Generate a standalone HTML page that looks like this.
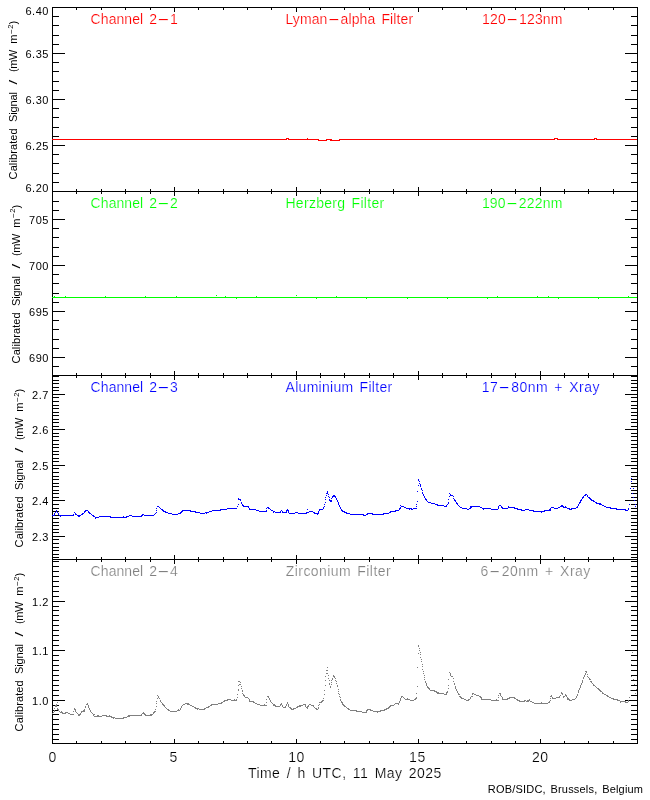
<!DOCTYPE html>
<html><head><meta charset="utf-8"><title>LYRA calibrated signal</title>
<style>html,body{margin:0;padding:0;background:#fff}body{width:650px;height:800px;overflow:hidden}svg{display:block;will-change:transform}text{font-family:"Liberation Sans",sans-serif;stroke:#fff;stroke-width:0.2}.s text,text.s{stroke-width:0}</style></head><body>
<svg width="650" height="800" viewBox="0 0 650 800">
<rect width="650" height="800" fill="#fff"/>
<g fill="#000" shape-rendering="crispEdges">
<rect x="52" y="7" width="1" height="737"/><rect x="637" y="7" width="1" height="737"/><rect x="52" y="7" width="586" height="1"/><rect x="52" y="191" width="586" height="1"/><rect x="52" y="375" width="586" height="1"/><rect x="52" y="559" width="586" height="1"/><rect x="52" y="743" width="586" height="1"/><rect x="76" y="7" width="1" height="3"/><rect x="76" y="189" width="1" height="5"/><rect x="76" y="373" width="1" height="5"/><rect x="76" y="557" width="1" height="5"/><rect x="76" y="741" width="1" height="3"/><rect x="101" y="7" width="1" height="3"/><rect x="101" y="189" width="1" height="5"/><rect x="101" y="373" width="1" height="5"/><rect x="101" y="557" width="1" height="5"/><rect x="101" y="741" width="1" height="3"/><rect x="125" y="7" width="1" height="3"/><rect x="125" y="189" width="1" height="5"/><rect x="125" y="373" width="1" height="5"/><rect x="125" y="557" width="1" height="5"/><rect x="125" y="741" width="1" height="3"/><rect x="150" y="7" width="1" height="3"/><rect x="150" y="189" width="1" height="5"/><rect x="150" y="373" width="1" height="5"/><rect x="150" y="557" width="1" height="5"/><rect x="150" y="741" width="1" height="3"/><rect x="174" y="7" width="1" height="5"/><rect x="174" y="187" width="1" height="9"/><rect x="174" y="371" width="1" height="9"/><rect x="174" y="555" width="1" height="9"/><rect x="174" y="739" width="1" height="5"/><rect x="198" y="7" width="1" height="3"/><rect x="198" y="189" width="1" height="5"/><rect x="198" y="373" width="1" height="5"/><rect x="198" y="557" width="1" height="5"/><rect x="198" y="741" width="1" height="3"/><rect x="223" y="7" width="1" height="3"/><rect x="223" y="189" width="1" height="5"/><rect x="223" y="373" width="1" height="5"/><rect x="223" y="557" width="1" height="5"/><rect x="223" y="741" width="1" height="3"/><rect x="247" y="7" width="1" height="3"/><rect x="247" y="189" width="1" height="5"/><rect x="247" y="373" width="1" height="5"/><rect x="247" y="557" width="1" height="5"/><rect x="247" y="741" width="1" height="3"/><rect x="271" y="7" width="1" height="3"/><rect x="271" y="189" width="1" height="5"/><rect x="271" y="373" width="1" height="5"/><rect x="271" y="557" width="1" height="5"/><rect x="271" y="741" width="1" height="3"/><rect x="296" y="7" width="1" height="5"/><rect x="296" y="187" width="1" height="9"/><rect x="296" y="371" width="1" height="9"/><rect x="296" y="555" width="1" height="9"/><rect x="296" y="739" width="1" height="5"/><rect x="320" y="7" width="1" height="3"/><rect x="320" y="189" width="1" height="5"/><rect x="320" y="373" width="1" height="5"/><rect x="320" y="557" width="1" height="5"/><rect x="320" y="741" width="1" height="3"/><rect x="344" y="7" width="1" height="3"/><rect x="344" y="189" width="1" height="5"/><rect x="344" y="373" width="1" height="5"/><rect x="344" y="557" width="1" height="5"/><rect x="344" y="741" width="1" height="3"/><rect x="369" y="7" width="1" height="3"/><rect x="369" y="189" width="1" height="5"/><rect x="369" y="373" width="1" height="5"/><rect x="369" y="557" width="1" height="5"/><rect x="369" y="741" width="1" height="3"/><rect x="393" y="7" width="1" height="3"/><rect x="393" y="189" width="1" height="5"/><rect x="393" y="373" width="1" height="5"/><rect x="393" y="557" width="1" height="5"/><rect x="393" y="741" width="1" height="3"/><rect x="418" y="7" width="1" height="5"/><rect x="418" y="187" width="1" height="9"/><rect x="418" y="371" width="1" height="9"/><rect x="418" y="555" width="1" height="9"/><rect x="418" y="739" width="1" height="5"/><rect x="442" y="7" width="1" height="3"/><rect x="442" y="189" width="1" height="5"/><rect x="442" y="373" width="1" height="5"/><rect x="442" y="557" width="1" height="5"/><rect x="442" y="741" width="1" height="3"/><rect x="466" y="7" width="1" height="3"/><rect x="466" y="189" width="1" height="5"/><rect x="466" y="373" width="1" height="5"/><rect x="466" y="557" width="1" height="5"/><rect x="466" y="741" width="1" height="3"/><rect x="491" y="7" width="1" height="3"/><rect x="491" y="189" width="1" height="5"/><rect x="491" y="373" width="1" height="5"/><rect x="491" y="557" width="1" height="5"/><rect x="491" y="741" width="1" height="3"/><rect x="515" y="7" width="1" height="3"/><rect x="515" y="189" width="1" height="5"/><rect x="515" y="373" width="1" height="5"/><rect x="515" y="557" width="1" height="5"/><rect x="515" y="741" width="1" height="3"/><rect x="540" y="7" width="1" height="5"/><rect x="540" y="187" width="1" height="9"/><rect x="540" y="371" width="1" height="9"/><rect x="540" y="555" width="1" height="9"/><rect x="540" y="739" width="1" height="5"/><rect x="564" y="7" width="1" height="3"/><rect x="564" y="189" width="1" height="5"/><rect x="564" y="373" width="1" height="5"/><rect x="564" y="557" width="1" height="5"/><rect x="564" y="741" width="1" height="3"/><rect x="588" y="7" width="1" height="3"/><rect x="588" y="189" width="1" height="5"/><rect x="588" y="373" width="1" height="5"/><rect x="588" y="557" width="1" height="5"/><rect x="588" y="741" width="1" height="3"/><rect x="613" y="7" width="1" height="3"/><rect x="613" y="189" width="1" height="5"/><rect x="613" y="373" width="1" height="5"/><rect x="613" y="557" width="1" height="5"/><rect x="613" y="741" width="1" height="3"/><rect x="52" y="191" width="13" height="1"/><rect x="625" y="191" width="13" height="1"/><rect x="52" y="182" width="7" height="1"/><rect x="631" y="182" width="7" height="1"/><rect x="52" y="173" width="7" height="1"/><rect x="631" y="173" width="7" height="1"/><rect x="52" y="163" width="7" height="1"/><rect x="631" y="163" width="7" height="1"/><rect x="52" y="154" width="7" height="1"/><rect x="631" y="154" width="7" height="1"/><rect x="52" y="145" width="13" height="1"/><rect x="625" y="145" width="13" height="1"/><rect x="52" y="136" width="7" height="1"/><rect x="631" y="136" width="7" height="1"/><rect x="52" y="127" width="7" height="1"/><rect x="631" y="127" width="7" height="1"/><rect x="52" y="117" width="7" height="1"/><rect x="631" y="117" width="7" height="1"/><rect x="52" y="108" width="7" height="1"/><rect x="631" y="108" width="7" height="1"/><rect x="52" y="99" width="13" height="1"/><rect x="625" y="99" width="13" height="1"/><rect x="52" y="90" width="7" height="1"/><rect x="631" y="90" width="7" height="1"/><rect x="52" y="81" width="7" height="1"/><rect x="631" y="81" width="7" height="1"/><rect x="52" y="71" width="7" height="1"/><rect x="631" y="71" width="7" height="1"/><rect x="52" y="62" width="7" height="1"/><rect x="631" y="62" width="7" height="1"/><rect x="52" y="53" width="13" height="1"/><rect x="625" y="53" width="13" height="1"/><rect x="52" y="44" width="7" height="1"/><rect x="631" y="44" width="7" height="1"/><rect x="52" y="35" width="7" height="1"/><rect x="631" y="35" width="7" height="1"/><rect x="52" y="25" width="7" height="1"/><rect x="631" y="25" width="7" height="1"/><rect x="52" y="16" width="7" height="1"/><rect x="631" y="16" width="7" height="1"/><rect x="52" y="7" width="13" height="1"/><rect x="625" y="7" width="13" height="1"/><rect x="52" y="366" width="7" height="1"/><rect x="631" y="366" width="7" height="1"/><rect x="52" y="357" width="13" height="1"/><rect x="625" y="357" width="13" height="1"/><rect x="52" y="348" width="7" height="1"/><rect x="631" y="348" width="7" height="1"/><rect x="52" y="339" width="7" height="1"/><rect x="631" y="339" width="7" height="1"/><rect x="52" y="329" width="7" height="1"/><rect x="631" y="329" width="7" height="1"/><rect x="52" y="320" width="7" height="1"/><rect x="631" y="320" width="7" height="1"/><rect x="52" y="311" width="13" height="1"/><rect x="625" y="311" width="13" height="1"/><rect x="52" y="302" width="7" height="1"/><rect x="631" y="302" width="7" height="1"/><rect x="52" y="293" width="7" height="1"/><rect x="631" y="293" width="7" height="1"/><rect x="52" y="283" width="7" height="1"/><rect x="631" y="283" width="7" height="1"/><rect x="52" y="274" width="7" height="1"/><rect x="631" y="274" width="7" height="1"/><rect x="52" y="265" width="13" height="1"/><rect x="625" y="265" width="13" height="1"/><rect x="52" y="256" width="7" height="1"/><rect x="631" y="256" width="7" height="1"/><rect x="52" y="247" width="7" height="1"/><rect x="631" y="247" width="7" height="1"/><rect x="52" y="237" width="7" height="1"/><rect x="631" y="237" width="7" height="1"/><rect x="52" y="228" width="7" height="1"/><rect x="631" y="228" width="7" height="1"/><rect x="52" y="219" width="13" height="1"/><rect x="625" y="219" width="13" height="1"/><rect x="52" y="210" width="7" height="1"/><rect x="631" y="210" width="7" height="1"/><rect x="52" y="201" width="7" height="1"/><rect x="631" y="201" width="7" height="1"/><rect x="52" y="191" width="7" height="1"/><rect x="631" y="191" width="7" height="1"/><rect x="52" y="557" width="7" height="1"/><rect x="631" y="557" width="7" height="1"/><rect x="52" y="554" width="7" height="1"/><rect x="631" y="554" width="7" height="1"/><rect x="52" y="550" width="7" height="1"/><rect x="631" y="550" width="7" height="1"/><rect x="52" y="547" width="7" height="1"/><rect x="631" y="547" width="7" height="1"/><rect x="52" y="543" width="7" height="1"/><rect x="631" y="543" width="7" height="1"/><rect x="52" y="539" width="7" height="1"/><rect x="631" y="539" width="7" height="1"/><rect x="52" y="536" width="13" height="1"/><rect x="625" y="536" width="13" height="1"/><rect x="52" y="532" width="7" height="1"/><rect x="631" y="532" width="7" height="1"/><rect x="52" y="529" width="7" height="1"/><rect x="631" y="529" width="7" height="1"/><rect x="52" y="525" width="7" height="1"/><rect x="631" y="525" width="7" height="1"/><rect x="52" y="522" width="7" height="1"/><rect x="631" y="522" width="7" height="1"/><rect x="52" y="518" width="7" height="1"/><rect x="631" y="518" width="7" height="1"/><rect x="52" y="515" width="7" height="1"/><rect x="631" y="515" width="7" height="1"/><rect x="52" y="511" width="7" height="1"/><rect x="631" y="511" width="7" height="1"/><rect x="52" y="508" width="7" height="1"/><rect x="631" y="508" width="7" height="1"/><rect x="52" y="504" width="7" height="1"/><rect x="631" y="504" width="7" height="1"/><rect x="52" y="500" width="13" height="1"/><rect x="625" y="500" width="13" height="1"/><rect x="52" y="497" width="7" height="1"/><rect x="631" y="497" width="7" height="1"/><rect x="52" y="493" width="7" height="1"/><rect x="631" y="493" width="7" height="1"/><rect x="52" y="490" width="7" height="1"/><rect x="631" y="490" width="7" height="1"/><rect x="52" y="486" width="7" height="1"/><rect x="631" y="486" width="7" height="1"/><rect x="52" y="483" width="7" height="1"/><rect x="631" y="483" width="7" height="1"/><rect x="52" y="479" width="7" height="1"/><rect x="631" y="479" width="7" height="1"/><rect x="52" y="476" width="7" height="1"/><rect x="631" y="476" width="7" height="1"/><rect x="52" y="472" width="7" height="1"/><rect x="631" y="472" width="7" height="1"/><rect x="52" y="468" width="7" height="1"/><rect x="631" y="468" width="7" height="1"/><rect x="52" y="465" width="13" height="1"/><rect x="625" y="465" width="13" height="1"/><rect x="52" y="461" width="7" height="1"/><rect x="631" y="461" width="7" height="1"/><rect x="52" y="458" width="7" height="1"/><rect x="631" y="458" width="7" height="1"/><rect x="52" y="454" width="7" height="1"/><rect x="631" y="454" width="7" height="1"/><rect x="52" y="451" width="7" height="1"/><rect x="631" y="451" width="7" height="1"/><rect x="52" y="447" width="7" height="1"/><rect x="631" y="447" width="7" height="1"/><rect x="52" y="444" width="7" height="1"/><rect x="631" y="444" width="7" height="1"/><rect x="52" y="440" width="7" height="1"/><rect x="631" y="440" width="7" height="1"/><rect x="52" y="436" width="7" height="1"/><rect x="631" y="436" width="7" height="1"/><rect x="52" y="433" width="7" height="1"/><rect x="631" y="433" width="7" height="1"/><rect x="52" y="429" width="13" height="1"/><rect x="625" y="429" width="13" height="1"/><rect x="52" y="426" width="7" height="1"/><rect x="631" y="426" width="7" height="1"/><rect x="52" y="422" width="7" height="1"/><rect x="631" y="422" width="7" height="1"/><rect x="52" y="419" width="7" height="1"/><rect x="631" y="419" width="7" height="1"/><rect x="52" y="415" width="7" height="1"/><rect x="631" y="415" width="7" height="1"/><rect x="52" y="412" width="7" height="1"/><rect x="631" y="412" width="7" height="1"/><rect x="52" y="408" width="7" height="1"/><rect x="631" y="408" width="7" height="1"/><rect x="52" y="405" width="7" height="1"/><rect x="631" y="405" width="7" height="1"/><rect x="52" y="401" width="7" height="1"/><rect x="631" y="401" width="7" height="1"/><rect x="52" y="397" width="7" height="1"/><rect x="631" y="397" width="7" height="1"/><rect x="52" y="394" width="13" height="1"/><rect x="625" y="394" width="13" height="1"/><rect x="52" y="390" width="7" height="1"/><rect x="631" y="390" width="7" height="1"/><rect x="52" y="387" width="7" height="1"/><rect x="631" y="387" width="7" height="1"/><rect x="52" y="383" width="7" height="1"/><rect x="631" y="383" width="7" height="1"/><rect x="52" y="380" width="7" height="1"/><rect x="631" y="380" width="7" height="1"/><rect x="52" y="376" width="7" height="1"/><rect x="631" y="376" width="7" height="1"/><rect x="52" y="739" width="7" height="1"/><rect x="631" y="739" width="7" height="1"/><rect x="52" y="734" width="7" height="1"/><rect x="631" y="734" width="7" height="1"/><rect x="52" y="729" width="7" height="1"/><rect x="631" y="729" width="7" height="1"/><rect x="52" y="724" width="7" height="1"/><rect x="631" y="724" width="7" height="1"/><rect x="52" y="719" width="7" height="1"/><rect x="631" y="719" width="7" height="1"/><rect x="52" y="714" width="7" height="1"/><rect x="631" y="714" width="7" height="1"/><rect x="52" y="710" width="7" height="1"/><rect x="631" y="710" width="7" height="1"/><rect x="52" y="705" width="7" height="1"/><rect x="631" y="705" width="7" height="1"/><rect x="52" y="700" width="13" height="1"/><rect x="625" y="700" width="13" height="1"/><rect x="52" y="695" width="7" height="1"/><rect x="631" y="695" width="7" height="1"/><rect x="52" y="690" width="7" height="1"/><rect x="631" y="690" width="7" height="1"/><rect x="52" y="685" width="7" height="1"/><rect x="631" y="685" width="7" height="1"/><rect x="52" y="680" width="7" height="1"/><rect x="631" y="680" width="7" height="1"/><rect x="52" y="675" width="7" height="1"/><rect x="631" y="675" width="7" height="1"/><rect x="52" y="670" width="7" height="1"/><rect x="631" y="670" width="7" height="1"/><rect x="52" y="665" width="7" height="1"/><rect x="631" y="665" width="7" height="1"/><rect x="52" y="660" width="7" height="1"/><rect x="631" y="660" width="7" height="1"/><rect x="52" y="655" width="7" height="1"/><rect x="631" y="655" width="7" height="1"/><rect x="52" y="650" width="13" height="1"/><rect x="625" y="650" width="13" height="1"/><rect x="52" y="645" width="7" height="1"/><rect x="631" y="645" width="7" height="1"/><rect x="52" y="640" width="7" height="1"/><rect x="631" y="640" width="7" height="1"/><rect x="52" y="635" width="7" height="1"/><rect x="631" y="635" width="7" height="1"/><rect x="52" y="630" width="7" height="1"/><rect x="631" y="630" width="7" height="1"/><rect x="52" y="625" width="7" height="1"/><rect x="631" y="625" width="7" height="1"/><rect x="52" y="620" width="7" height="1"/><rect x="631" y="620" width="7" height="1"/><rect x="52" y="615" width="7" height="1"/><rect x="631" y="615" width="7" height="1"/><rect x="52" y="610" width="7" height="1"/><rect x="631" y="610" width="7" height="1"/><rect x="52" y="606" width="7" height="1"/><rect x="631" y="606" width="7" height="1"/><rect x="52" y="601" width="13" height="1"/><rect x="625" y="601" width="13" height="1"/><rect x="52" y="596" width="7" height="1"/><rect x="631" y="596" width="7" height="1"/><rect x="52" y="591" width="7" height="1"/><rect x="631" y="591" width="7" height="1"/><rect x="52" y="586" width="7" height="1"/><rect x="631" y="586" width="7" height="1"/><rect x="52" y="581" width="7" height="1"/><rect x="631" y="581" width="7" height="1"/><rect x="52" y="576" width="7" height="1"/><rect x="631" y="576" width="7" height="1"/><rect x="52" y="571" width="7" height="1"/><rect x="631" y="571" width="7" height="1"/><rect x="52" y="566" width="7" height="1"/><rect x="631" y="566" width="7" height="1"/><rect x="52" y="561" width="7" height="1"/><rect x="631" y="561" width="7" height="1"/>
</g>
<polyline points="52.0,139.5 286.5,139.5 286.5,138.5 288.5,138.5 288.5,139.5 318.0,139.5 318.0,140.5 326.5,140.5 326.5,139.5 331.5,139.5 331.5,140.5 339.0,140.5 339.0,139.5 554.0,139.5 554.0,138.5 557.0,138.5 557.0,139.5 594.0,139.5 594.0,138.5 596.0,138.5 596.0,139.5 637.0,139.5" fill="none" stroke="#ff0000" stroke-width="1" shape-rendering="crispEdges"/>
<path d="M307 138.5h1M330 140.5h1" fill="none" stroke="#ff0000" stroke-width="1" shape-rendering="crispEdges"/>
<polyline points="52.0,297.5 637.0,297.5" fill="none" stroke="#00ff00" stroke-width="1" shape-rendering="crispEdges"/>
<path d="M216 295.5h1M296 295.5h1M54 296.5h1M65 296.5h1M105 296.5h1M145 296.5h1M176 296.5h1M225 296.5h1M256 296.5h1M336 296.5h1M497 296.5h1M537 296.5h1M548 296.5h1M628 296.5h1M236 298.5h1M316 298.5h1M366 298.5h1M407 298.5h1M447 298.5h1M487 298.5h1M558 298.5h1M598 298.5h1" fill="none" stroke="#00ff00" stroke-width="1" shape-rendering="crispEdges"/>
<path d="M631 478.5h1M418 479.5h1M418 480.5h1M419 481.5h1M631 481.5h1M419 483.5h1M420 484.5h1M418 485.5h1M420 485.5h1M420 486.5h1M421 488.5h1M630 488.5h1M633 488.5h1M421 489.5h1M422 490.5h1M327 491.5h1M417 491.5h1M327 492.5h1M422 492.5h1M326 493.5h2M422 493.5h1M449 493.5h1M632 493.5h1M328 494.5h1M423 494.5h1M450 494.5h1M585 494.5h2M326 495.5h1M333 495.5h2M423 495.5h1M450 495.5h3M584 495.5h2M587 495.5h1M328 496.5h1M332 496.5h4M424 496.5h1M449 496.5h1M453 496.5h1M583 496.5h1M587 496.5h1M325 497.5h1M329 497.5h1M332 497.5h1M335 497.5h1M424 497.5h1M582 497.5h2M588 497.5h2M633 497.5h1M238 498.5h1M331 498.5h1M336 498.5h1M425 498.5h1M453 498.5h1M582 498.5h1M589 498.5h2M238 499.5h3M325 499.5h1M329 499.5h1M336 499.5h1M425 499.5h2M448 499.5h1M454 499.5h1M581 499.5h1M590 499.5h2M240 500.5h1M329 500.5h3M337 500.5h1M426 500.5h1M454 500.5h2M580 500.5h2M591 500.5h3M634 500.5h1M330 501.5h2M337 501.5h1M417 501.5h1M427 501.5h1M455 501.5h1M580 501.5h1M593 501.5h2M241 502.5h1M325 502.5h1M338 502.5h1M428 502.5h3M448 502.5h1M456 502.5h1M579 502.5h2M595 502.5h2M241 503.5h1M338 503.5h1M431 503.5h4M448 503.5h1M456 503.5h2M579 503.5h1M596 503.5h5M238 504.5h1M242 504.5h1M324 504.5h1M338 504.5h1M416 504.5h1M435 504.5h3M447 504.5h1M457 504.5h1M578 504.5h1M599 504.5h3M629 504.5h1M635 504.5h1M242 505.5h2M339 505.5h1M400 505.5h1M437 505.5h7M446 505.5h1M458 505.5h1M499 505.5h2M561 505.5h2M578 505.5h1M602 505.5h2M157 506.5h2M237 506.5h1M243 506.5h6M324 506.5h1M339 506.5h1M401 506.5h3M416 506.5h1M444 506.5h3M459 506.5h1M470 506.5h10M498 506.5h1M501 506.5h1M508 506.5h1M560 506.5h4M565 506.5h1M577 506.5h1M604 506.5h2M635 506.5h1M159 507.5h1M248 507.5h1M267 507.5h2M323 507.5h1M340 507.5h1M400 507.5h1M404 507.5h2M460 507.5h2M470 507.5h2M480 507.5h2M498 507.5h1M501 507.5h2M508 507.5h7M551 507.5h3M558 507.5h2M563 507.5h4M576 507.5h2M606 507.5h5M156 508.5h1M160 508.5h1M227 508.5h10M249 508.5h1M266 508.5h1M268 508.5h2M323 508.5h1M340 508.5h1M399 508.5h2M406 508.5h6M413 508.5h4M462 508.5h5M469 508.5h2M482 508.5h9M498 508.5h1M502 508.5h6M514 508.5h4M550 508.5h1M554 508.5h4M567 508.5h3M571 508.5h5M610 508.5h7M628 508.5h1M161 509.5h2M220 509.5h7M249 509.5h7M270 509.5h1M287 509.5h1M307 509.5h1M319 509.5h4M341 509.5h1M399 509.5h1M409 509.5h1M411 509.5h2M467 509.5h2M483 509.5h1M491 509.5h7M517 509.5h5M525 509.5h4M549 509.5h2M569 509.5h3M616 509.5h10M628 509.5h1M56 510.5h1M85 510.5h3M156 510.5h1M162 510.5h2M182 510.5h9M212 510.5h9M256 510.5h3M266 510.5h1M271 510.5h2M281 510.5h1M286 510.5h3M319 510.5h1M341 510.5h2M395 510.5h4M521 510.5h4M529 510.5h5M544 510.5h7M625 510.5h3M56 511.5h1M84 511.5h2M88 511.5h1M163 511.5h3M181 511.5h2M190 511.5h6M209 511.5h3M259 511.5h8M273 511.5h2M280 511.5h1M282 511.5h1M286 511.5h1M288 511.5h1M309 511.5h4M318 511.5h1M342 511.5h3M390 511.5h6M533 511.5h12M55 512.5h1M57 512.5h1M74 512.5h1M84 512.5h1M88 512.5h2M156 512.5h1M165 512.5h3M180 512.5h2M195 512.5h5M205 512.5h4M273 512.5h1M275 512.5h6M282 512.5h5M288 512.5h1M295 512.5h3M306 512.5h3M313 512.5h2M318 512.5h1M344 512.5h3M389 512.5h2M541 512.5h1M54 513.5h1M58 513.5h1M75 513.5h1M82 513.5h2M89 513.5h2M155 513.5h1M168 513.5h4M178 513.5h3M200 513.5h5M206 513.5h1M289 513.5h6M298 513.5h9M314 513.5h5M346 513.5h4M367 513.5h6M383 513.5h6M54 514.5h1M58 514.5h1M73 514.5h1M75 514.5h2M81 514.5h2M91 514.5h1M142 514.5h2M154 514.5h1M172 514.5h6M317 514.5h1M350 514.5h14M366 514.5h2M372 514.5h12M52 515.5h3M59 515.5h15M77 515.5h4M92 515.5h2M129 515.5h3M141 515.5h2M144 515.5h10M363 515.5h3M60 516.5h1M78 516.5h2M93 516.5h2M99 516.5h12M123 516.5h1M126 516.5h3M132 516.5h10M95 517.5h4M110 517.5h17M95 518.5h1" fill="none" stroke="#0000ff" stroke-width="1" shape-rendering="crispEdges"/>
<path d="M418 645.5h1M418 646.5h1M419 648.5h1M419 650.5h1M420 652.5h1M632 652.5h1M418 653.5h1M420 654.5h1M420 657.5h1M421 659.5h1M421 661.5h1M422 664.5h1M631 664.5h1M422 666.5h1M327 667.5h1M417 667.5h1M422 669.5h1M326 670.5h2M423 671.5h1M585 671.5h2M449 672.5h1M586 672.5h1M326 673.5h2M423 673.5h1M450 673.5h1M585 673.5h1M450 674.5h1M585 674.5h1M587 674.5h1M328 675.5h1M333 675.5h1M424 675.5h1M450 675.5h1M584 675.5h1M325 676.5h1M333 676.5h2M451 676.5h2M584 676.5h1M587 676.5h1M631 676.5h1M334 677.5h1M424 677.5h1M583 677.5h1M588 677.5h1M328 678.5h1M332 678.5h1M335 678.5h1M453 678.5h1M583 678.5h1M589 678.5h1M332 679.5h1M424 679.5h1M448 679.5h1M589 679.5h2M633 679.5h1M325 680.5h1M329 680.5h1M331 680.5h1M335 680.5h1M582 680.5h1M238 681.5h2M336 681.5h1M425 681.5h1M453 681.5h1M582 681.5h1M590 681.5h2M240 682.5h1M331 682.5h1M425 682.5h1M582 682.5h1M591 682.5h1M329 683.5h1M336 683.5h1M426 683.5h1M454 683.5h1M581 683.5h1M592 683.5h1M239 684.5h2M329 684.5h1M331 684.5h1M426 684.5h1M454 684.5h1M581 684.5h1M593 684.5h1M634 684.5h1M238 685.5h1M325 685.5h1M337 685.5h1M426 685.5h1M448 685.5h1M580 685.5h1M593 685.5h2M241 686.5h1M330 686.5h1M337 686.5h1M417 686.5h1M427 686.5h1M455 686.5h1M580 686.5h1M595 686.5h1M330 687.5h1M427 687.5h2M455 687.5h1M580 687.5h1M596 687.5h1M241 688.5h1M428 688.5h2M448 688.5h1M455 688.5h1M579 688.5h1M597 688.5h2M238 689.5h1M338 689.5h1M429 689.5h1M456 689.5h1M579 689.5h1M598 689.5h2M636 689.5h1M238 690.5h1M242 690.5h1M324 690.5h1M430 690.5h5M456 690.5h1M578 690.5h1M599 690.5h2M630 690.5h1M242 691.5h1M338 691.5h1M434 691.5h3M447 691.5h1M457 691.5h1M578 691.5h1M600 691.5h2M436 692.5h3M446 692.5h2M457 692.5h1M561 692.5h1M578 692.5h1M602 692.5h1M242 693.5h1M338 693.5h1M416 693.5h1M437 693.5h7M446 693.5h1M458 693.5h1M472 693.5h2M499 693.5h2M561 693.5h2M602 693.5h2M635 693.5h1M237 694.5h1M243 694.5h1M324 694.5h1M339 694.5h1M444 694.5h3M458 694.5h2M472 694.5h1M474 694.5h2M500 694.5h1M562 694.5h1M565 694.5h1M577 694.5h1M604 694.5h2M157 695.5h1M243 695.5h2M476 695.5h3M498 695.5h1M500 695.5h1M551 695.5h1M560 695.5h1M565 695.5h2M577 695.5h1M606 695.5h2M158 696.5h1M244 696.5h1M267 696.5h2M339 696.5h1M401 696.5h2M459 696.5h2M471 696.5h2M479 696.5h2M501 696.5h1M550 696.5h2M559 696.5h1M563 696.5h2M566 696.5h1M576 696.5h1M607 696.5h2M158 697.5h1M237 697.5h1M245 697.5h3M268 697.5h1M340 697.5h1M401 697.5h1M403 697.5h1M416 697.5h1M460 697.5h2M470 697.5h1M480 697.5h2M498 697.5h1M502 697.5h1M509 697.5h6M552 697.5h1M556 697.5h4M563 697.5h1M567 697.5h1M576 697.5h1M609 697.5h2M629 697.5h1M157 698.5h1M159 698.5h1M248 698.5h1M269 698.5h1M323 698.5h1M400 698.5h1M404 698.5h1M407 698.5h1M415 698.5h2M461 698.5h3M470 698.5h1M481 698.5h1M502 698.5h1M507 698.5h3M514 698.5h2M550 698.5h1M552 698.5h4M567 698.5h2M575 698.5h1M611 698.5h3M227 699.5h4M234 699.5h1M236 699.5h1M249 699.5h1M266 699.5h1M269 699.5h1M340 699.5h1M400 699.5h1M405 699.5h5M414 699.5h2M464 699.5h2M468 699.5h2M481 699.5h10M496 699.5h1M502 699.5h6M516 699.5h2M529 699.5h1M567 699.5h3M572 699.5h3M613 699.5h5M160 700.5h1M224 700.5h4M231 700.5h6M249 700.5h1M270 700.5h1M322 700.5h2M340 700.5h1M400 700.5h1M410 700.5h4M466 700.5h3M491 700.5h8M517 700.5h3M524 700.5h2M527 700.5h3M550 700.5h1M569 700.5h3M617 700.5h3M628 700.5h1M156 701.5h1M160 701.5h1M223 701.5h2M249 701.5h5M270 701.5h1M321 701.5h2M341 701.5h1M399 701.5h1M519 701.5h6M526 701.5h3M530 701.5h2M549 701.5h1M620 701.5h6M628 701.5h1M57 702.5h1M161 702.5h1M221 702.5h2M253 702.5h2M266 702.5h1M271 702.5h1M287 702.5h1M319 702.5h3M341 702.5h2M399 702.5h1M532 702.5h2M541 702.5h1M548 702.5h2M620 702.5h1M625 702.5h3M87 703.5h1M156 703.5h1M162 703.5h1M185 703.5h4M218 703.5h4M255 703.5h2M272 703.5h1M281 703.5h1M287 703.5h1M342 703.5h1M395 703.5h4M534 703.5h14M56 704.5h1M86 704.5h2M162 704.5h2M183 704.5h2M187 704.5h3M211 704.5h7M257 704.5h3M264 704.5h1M273 704.5h2M280 704.5h2M286 704.5h1M288 704.5h1M303 704.5h3M309 704.5h2M319 704.5h1M342 704.5h2M394 704.5h1M398 704.5h1M55 705.5h2M88 705.5h1M163 705.5h2M182 705.5h1M190 705.5h2M210 705.5h2M260 705.5h7M273 705.5h3M280 705.5h1M282 705.5h1M286 705.5h1M288 705.5h1M299 705.5h4M305 705.5h1M308 705.5h1M311 705.5h3M318 705.5h1M343 705.5h2M390 705.5h4M55 706.5h2M85 706.5h1M88 706.5h1M156 706.5h1M164 706.5h1M181 706.5h1M192 706.5h2M208 706.5h2M275 706.5h5M282 706.5h1M285 706.5h1M288 706.5h1M297 706.5h4M305 706.5h1M307 706.5h2M313 706.5h1M344 706.5h2M389 706.5h2M85 707.5h1M88 707.5h1M165 707.5h1M181 707.5h1M194 707.5h2M206 707.5h3M283 707.5h3M289 707.5h2M296 707.5h2M306 707.5h2M314 707.5h1M318 707.5h1M346 707.5h1M388 707.5h2M54 708.5h1M57 708.5h1M74 708.5h1M89 708.5h1M166 708.5h1M180 708.5h1M195 708.5h4M204 708.5h2M290 708.5h2M293 708.5h3M307 708.5h1M315 708.5h2M318 708.5h1M347 708.5h2M386 708.5h3M57 709.5h2M74 709.5h2M84 709.5h1M89 709.5h1M155 709.5h1M167 709.5h2M178 709.5h1M180 709.5h1M197 709.5h1M199 709.5h6M291 709.5h3M316 709.5h2M348 709.5h2M367 709.5h4M384 709.5h3M54 710.5h1M58 710.5h1M75 710.5h1M83 710.5h2M90 710.5h1M168 710.5h2M177 710.5h3M350 710.5h7M366 710.5h2M370 710.5h3M380 710.5h5M54 711.5h1M59 711.5h1M61 711.5h1M73 711.5h1M75 711.5h1M81 711.5h4M90 711.5h1M154 711.5h2M170 711.5h7M356 711.5h6M366 711.5h1M373 711.5h8M53 712.5h1M60 712.5h3M65 712.5h3M76 712.5h1M81 712.5h1M91 712.5h1M143 712.5h1M153 712.5h2M362 712.5h5M377 712.5h1M52 713.5h1M62 713.5h4M68 713.5h2M77 713.5h1M80 713.5h1M92 713.5h1M142 713.5h3M153 713.5h1M70 714.5h4M78 714.5h3M93 714.5h2M141 714.5h1M144 714.5h2M150 714.5h3M78 715.5h2M93 715.5h1M97 715.5h2M102 715.5h5M109 715.5h1M128 715.5h14M145 715.5h7M94 716.5h8M106 716.5h6M127 716.5h3M111 717.5h4M123 717.5h4M113 718.5h1M115 718.5h9" fill="none" stroke="#808080" stroke-width="1" shape-rendering="crispEdges"/>
<g class="s" font-size="11" fill="#000" text-anchor="end" letter-spacing="0.5">
<text x="48.9" y="192.1">6.20</text>
<text x="48.9" y="149.8">6.25</text>
<text x="48.9" y="103.8">6.30</text>
<text x="48.9" y="57.8">6.35</text>
<text x="48.9" y="15.1">6.40</text>
<text x="48.9" y="361.8">690</text>
<text x="48.9" y="315.8">695</text>
<text x="48.9" y="269.8">700</text>
<text x="48.9" y="223.8">705</text>
<text x="48.9" y="540.8">2.3</text>
<text x="48.9" y="504.8">2.4</text>
<text x="48.9" y="469.8">2.5</text>
<text x="48.9" y="433.8">2.6</text>
<text x="48.9" y="398.8">2.7</text>
<text x="48.9" y="704.8">1.0</text>
<text x="48.9" y="654.8">1.1</text>
<text x="48.9" y="605.8">1.2</text>
</g>
<g class="s" font-size="11" fill="#000" letter-spacing="0.1">
<text id="yt0" transform="translate(17.3,178.80) rotate(-90)"><tspan x="-0.6">Calibrated</tspan> <tspan x="56.9" letter-spacing="-0.15">Signal</tspan> <tspan x="94.2" textLength="4.8" lengthAdjust="spacingAndGlyphs">/</tspan> <tspan x="106.8" letter-spacing="-0.4">(mW</tspan> <tspan x="135.0">m<tspan font-size="7.5" dy="-4.5"><tspan textLength="5.8" lengthAdjust="spacingAndGlyphs">-</tspan>2</tspan><tspan dy="4.5">)</tspan></tspan></text>
<text id="yt1" transform="translate(19.8,362.80) rotate(-90)"><tspan x="-0.6">Calibrated</tspan> <tspan x="56.9" letter-spacing="-0.15">Signal</tspan> <tspan x="94.2" textLength="4.8" lengthAdjust="spacingAndGlyphs">/</tspan> <tspan x="106.8" letter-spacing="-0.4">(mW</tspan> <tspan x="135.0">m<tspan font-size="7.5" dy="-4.5"><tspan textLength="5.8" lengthAdjust="spacingAndGlyphs">-</tspan>2</tspan><tspan dy="4.5">)</tspan></tspan></text>
<text id="yt2" transform="translate(23.2,546.80) rotate(-90)"><tspan x="-0.6">Calibrated</tspan> <tspan x="56.9" letter-spacing="-0.15">Signal</tspan> <tspan x="94.2" textLength="4.8" lengthAdjust="spacingAndGlyphs">/</tspan> <tspan x="106.8" letter-spacing="-0.4">(mW</tspan> <tspan x="135.0">m<tspan font-size="7.5" dy="-4.5"><tspan textLength="5.8" lengthAdjust="spacingAndGlyphs">-</tspan>2</tspan><tspan dy="4.5">)</tspan></tspan></text>
<text id="yt3" transform="translate(23.2,730.80) rotate(-90)"><tspan x="-0.6">Calibrated</tspan> <tspan x="56.9" letter-spacing="-0.15">Signal</tspan> <tspan x="94.2" textLength="4.8" lengthAdjust="spacingAndGlyphs">/</tspan> <tspan x="106.8" letter-spacing="-0.4">(mW</tspan> <tspan x="135.0">m<tspan font-size="7.5" dy="-4.5"><tspan textLength="5.8" lengthAdjust="spacingAndGlyphs">-</tspan>2</tspan><tspan dy="4.5">)</tspan></tspan></text>
</g>
<text id="p00" x="90.62" y="24.3" font-size="14" fill="#ff0000" letter-spacing="0.074" word-spacing="2.0">Channel 2<tspan textLength="13.0" lengthAdjust="spacingAndGlyphs">-</tspan>1</text>
<text id="p01" x="285.42" y="24.3" font-size="14" fill="#ff0000" letter-spacing="0.125" word-spacing="2.0">Lyman<tspan textLength="13.0" lengthAdjust="spacingAndGlyphs">-</tspan>alpha Filter</text>
<text id="p02" x="481.94" y="24.3" font-size="14" fill="#ff0000" letter-spacing="0.199" word-spacing="2.0">120<tspan textLength="13.0" lengthAdjust="spacingAndGlyphs">-</tspan>123nm</text>
<text id="p10" x="90.62" y="208.3" font-size="14" fill="#00ff00" letter-spacing="0.074" word-spacing="2.0">Channel 2<tspan textLength="13.0" lengthAdjust="spacingAndGlyphs">-</tspan>2</text>
<text id="p11" x="285.47" y="208.3" font-size="14" fill="#00ff00" letter-spacing="0.293" word-spacing="2.0">Herzberg Filter</text>
<text id="p12" x="481.90" y="208.3" font-size="14" fill="#00ff00" letter-spacing="0.194" word-spacing="2.0">190<tspan textLength="13.0" lengthAdjust="spacingAndGlyphs">-</tspan>222nm</text>
<text id="p20" x="90.62" y="392.3" font-size="14" fill="#0000ff" letter-spacing="0.074" word-spacing="2.0">Channel 2<tspan textLength="13.0" lengthAdjust="spacingAndGlyphs">-</tspan>3</text>
<text id="p21" x="285.57" y="392.3" font-size="14" fill="#0000ff" letter-spacing="0.281" word-spacing="2.0">Aluminium Filter</text>
<text id="p22" x="481.72" y="392.3" font-size="14" fill="#0000ff" letter-spacing="0.450" word-spacing="2.0">17<tspan textLength="13.0" lengthAdjust="spacingAndGlyphs">-</tspan>80nm + Xray</text>
<text id="p30" x="90.62" y="576.3" font-size="14" fill="#808080" letter-spacing="0.074" word-spacing="2.0">Channel 2<tspan textLength="13.0" lengthAdjust="spacingAndGlyphs">-</tspan>4</text>
<text id="p31" x="285.81" y="576.3" font-size="14" fill="#808080" letter-spacing="0.422" word-spacing="2.0">Zirconium Filter</text>
<text id="p32" x="480.41" y="576.3" font-size="14" fill="#808080" letter-spacing="0.488" word-spacing="2.0">6<tspan textLength="13.0" lengthAdjust="spacingAndGlyphs">-</tspan>20nm + Xray</text>
<text id="xt" x="247.90" y="778.3" font-size="14" fill="#000" letter-spacing="0.462" word-spacing="2.0">Time / h UTC, 11 May 2025</text>
<text class="s" id="ft" x="487.86" y="793.2" font-size="11" fill="#000" letter-spacing="0.185" word-spacing="1.5">ROB/SIDC, Brussels, Belgium</text>
<g font-size="14" fill="#000" text-anchor="middle">
<text x="52.8" y="762.2" letter-spacing="0.6">0</text>
<text x="173.7" y="762.2" letter-spacing="0.6">5</text>
<text x="296.6" y="762.2" letter-spacing="0.6">10</text>
<text x="417.4" y="762.2" letter-spacing="0.6">15</text>
<text x="540.3" y="762.2" letter-spacing="0.6">20</text>
</g>
</svg></body></html>
